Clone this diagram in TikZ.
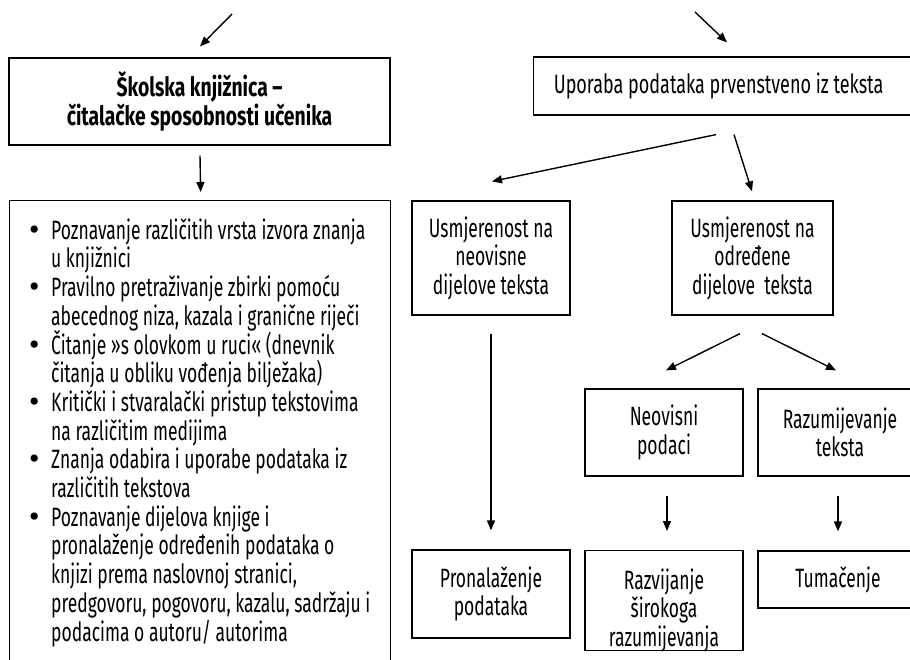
\documentclass[tikz,border=0pt]{standalone}
\usepackage{fontspec}
\setmainfont{Fira Sans}[FakeStretch=0.66, BoldFeatures={FakeStretch=0.73}]
\newfontfamily\bulfont{Fira Sans}
\usetikzlibrary{arrows.meta,calc}
\newcommand\mybul{\makebox[21pt][l]{\hspace*{-1pt}\bulfont\fontsize{32}{32}\selectfont\raisebox{-1pt}{•}}}
\newcommand\indt{\hspace*{21pt}}
\newcommand\boxfont{\fontsize{26.5}{28.5}\selectfont\lineskiplimit=-50pt\relax}
\newcommand\listfont{\fontsize{26.5}{28.7}\selectfont\lineskiplimit=-50pt\relax}
\tikzset{
  box/.style={draw, line width=1.2pt, inner sep=0pt, align=center, font=\boxfont},
  arr/.style={line width=1.4pt, -{Triangle[length=10pt,width=8pt]}}
}
\begin{document}
\begin{tikzpicture}[x=1pt,y=-1pt]
\useasboundingbox (0,0) rectangle (910,660);
\clip (0,0) rectangle (910,660);
% left column
\node[box, minimum width=381pt, minimum height=87pt, font=\boxfont\bfseries] (title) at (199.5,101.5)
  {Školska knjižnica –\\čitalačke sposobnosti učenika};
\node[box, minimum width=381pt, minimum height=520pt, anchor=north west] (list) at (9,200) {};
\node[anchor=north west, inner sep=0pt, align=left, font=\listfont] (items) at (30,217) {%
\rule{0pt}{22pt}\mybul Poznavanje različitih vrsta izvora znanja\\
\indt u knjižnici\\
\mybul Pravilno pretraživanje zbirki pomoću\\
\indt abecednog niza, kazala i granične riječi\\
\mybul Čitanje »s olovkom u ruci« (dnevnik\\
\indt čitanja u obliku vođenja bilježaka)\\
\mybul Kritički i stvaralački pristup tekstovima\\
\indt na različitim medijima\\
\mybul Znanja odabira i uporabe podataka iz\\
\indt različitih tekstova\\
\mybul Poznavanje dijelova knjige i\\
\indt pronalaženje određenih podataka o\\
\indt knjizi prema naslovnoj stranici,\\
\indt predgovoru, pogovoru, kazalu, sadržaju i\\
\indt podacima o autoru/ autorima};
% right part
\node[box, minimum width=380pt, minimum height=58pt, anchor=west] (up) at (533,86)
  {\hspace*{-10pt}\addfontfeatures{FakeStretch=0.68}Uporaba podataka prvenstveno iz teksta};
\node[box, minimum width=158pt, minimum height=114pt] (n1) at (491,258)
  {Usmjerenost na\\neovisne\\dijelove teksta};
\node[box, minimum width=161pt, minimum height=114pt] (n2) at (752.5,258)
  {Usmjerenost na\\određene\\dijelove~ teksta};
\node[box, minimum width=158pt, minimum height=87pt] (nd) at (664,432.5)
  {Neovisni\\podaci};
\node[box, minimum width=164pt, minimum height=87pt] (rt) at (840,432.5)
  {Razumijevanje\\teksta};
\node[box, minimum width=158pt, minimum height=88pt] (pr) at (491,594)
  {Pronalaženje\\podataka};
\node[box, minimum width=158pt, minimum height=100pt, anchor=north] (rz) at (664,550)
  {};
\node[anchor=north, inner sep=0pt, align=center, font=\boxfont] (rzt) at (664,568.5)
  {Razvijanje\\širokoga\\razumijevanja};
\node[box, minimum width=160pt, minimum height=57pt] (tu) at (838,579.5)
  {Tumačenje};
% connectors
\coordinate (a1s) at (232,14);
\coordinate (a3s) at (695,12);
\draw[arr] (a1s) -- ($(title.north)+(0.5,-11)$);
\draw[arr] ($(title.south)+(0.5,10)$) -- ($(list.north)+(0.5,-8)$);
\draw[arr] (a3s) -- ($(up.north west)+(194,-14)$);
\draw[arr] ($(up.south west)+(183,19)$) -- ($(n1.north)+(1,-19)$);
\draw[arr] ($(up.south west)+(201,19)$) -- ($(n2.north)+(-0.5,-9)$);
\draw[arr] ($(n2.south)+(-12.5,18)$) -- ($(nd.north)+(2,-18)$);
\draw[arr] ($(n2.south)+(9.5,18)$) -- ($(rt.north)+(-4,-18)$);
\draw[arr] ($(n1.south)+(0,18)$) -- ($(pr.north)+(0,-19)$);
\draw[arr] ($(nd.south)+(3,19)$) -- ($(rz.north)+(3,-19)$);
\draw[arr] ($(rt.south)+(-2,19)$) -- ($(tu.north)+(0,-19)$);
\end{tikzpicture}
\end{document}
